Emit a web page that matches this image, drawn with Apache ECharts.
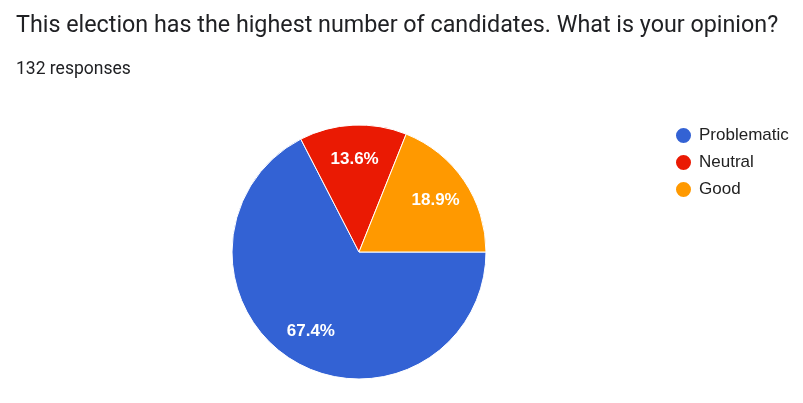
<!DOCTYPE html>
<html lang="en">
<head>
    <meta charset="UTF-8">
    <title>Election opinion</title>
    <script src="https://cdn.jsdelivr.net/npm/echarts@6/dist/echarts.min.js"></script>
    <style>
        html, body { margin: 0; padding: 0; background: #fff; }
        #main { width: 803px; height: 403px; }
    </style>
</head>
<body>
<div id="main"></div>
<script type="text/javascript">
    // answers in the order they are drawn (clockwise from 3 o'clock)
    var answers = ['Problematic', 'Neutral', 'Good'];
    var counts = [89, 18, 25];
    var colors = ['#3362d4', '#ea1a03', '#ff9900'];
    var questionText = 'This election has the highest number of candidates. What is your opinion?';
    var responsesText = '132 responses';

    var pieData = answers.map(function (name, i) {
        return { name: name, value: counts[i] };
    });

    var myChart = echarts.init(document.getElementById('main'));
    myChart.setOption({
        animation: false,
        color: colors,
        title: [
            {
                text: questionText,
                left: 11, top: 10,
                textStyle: { fontFamily: 'Roboto', fontSize: 23.3, fontWeight: 'normal', color: '#202124' }
            },
            {
                text: responsesText,
                left: 11, top: 56,
                textStyle: { fontFamily: 'Roboto', fontSize: 17.5, fontWeight: 'normal', color: '#202124' }
            }
        ],
        legend: {
            orient: 'vertical',
            left: 669, top: 121,
            data: answers,
            icon: 'circle',
            itemWidth: 17, itemHeight: 17,
            itemGap: 8,
            textStyle: { fontFamily: 'Arial', fontSize: 17, color: '#222', padding: [0, 0, 0, 2] }
        },
        series: [
            {
                type: 'pie',
                center: [359, 252],
                radius: [0, 127],
                startAngle: 0,
                clockwise: true,
                itemStyle: { borderColor: '#fff', borderWidth: 1 },
                label: { show: false },
                labelLine: { show: false },
                data: pieData
            },
            {
                // transparent ring only used to place the percentage labels further out
                type: 'pie',
                silent: true,
                center: [359, 252],
                radius: [52, 127],
                startAngle: 0,
                clockwise: true,
                itemStyle: { color: 'rgba(0,0,0,0)' },
                label: {
                    show: true,
                    position: 'inside',
                    formatter: function (p) { return p.percent.toFixed(1) + '%'; },
                    fontFamily: 'Arial', fontSize: 17, fontWeight: 'bold', color: '#fff'
                },
                labelLine: { show: false },
                data: pieData
            }
        ]
    });
</script>
</body>
</html>
